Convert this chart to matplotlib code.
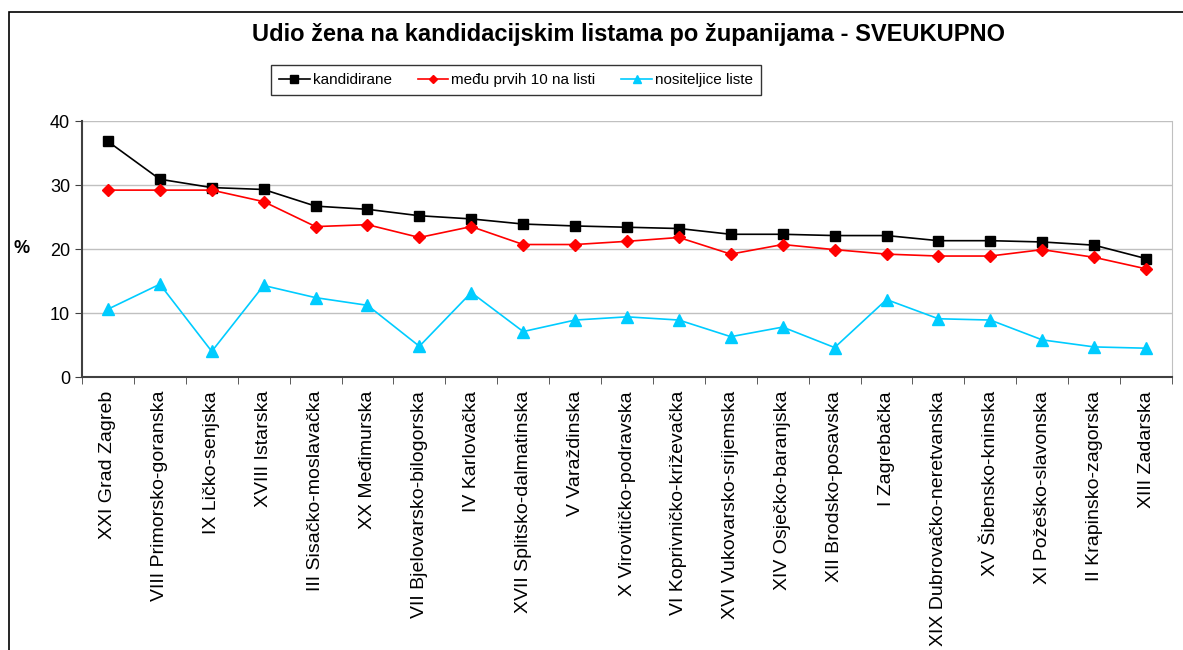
import matplotlib.pyplot as plt
from matplotlib.patches import Rectangle

plt.rcParams["font.family"] = ["Liberation Sans", "DejaVu Sans"]

counties = [
    "XXI Grad Zagreb", "VIII Primorsko-goranska", "IX Ličko-senjska",
    "XVIII Istarska", "III Sisačko-moslavačka", "XX Međimurska",
    "VII Bjelovarsko-bilogorska", "IV Karlovačka", "XVII Splitsko-dalmatinska",
    "V Varaždinska", "X Virovitičko-podravska", "VI Koprivničko-križevačka",
    "XVI Vukovarsko-srijemska", "XIV Osječko-baranjska", "XII Brodsko-posavska",
    "I Zagrebačka", "XIX Dubrovačko-neretvanska", "XV Šibensko-kninska",
    "XI Požeško-slavonska", "II Krapinsko-zagorska", "XIII Zadarska",
]
kandidirane = [36.8, 30.9, 29.6, 29.3, 26.7, 26.2, 25.2, 24.7, 23.9, 23.6, 23.4,
               23.2, 22.3, 22.3, 22.1, 22.1, 21.3, 21.3, 21.1, 20.6, 18.5]
prvih10 = [29.2, 29.2, 29.2, 27.4, 23.5, 23.8, 21.8, 23.5, 20.7, 20.7, 21.2,
           21.8, 19.2, 20.7, 19.9, 19.2, 18.9, 18.9, 19.9, 18.7, 16.9]
nositeljice = [10.6, 14.5, 4.0, 14.3, 12.4, 11.2, 4.8, 13.2, 7.1, 8.9, 9.4,
               8.9, 6.3, 7.8, 4.6, 12.1, 9.1, 8.9, 5.8, 4.7, 4.5]
yticks = [0, 10, 20, 30, 40]

fig = plt.figure(figsize=(11.83, 6.5), dpi=100)
W, H = 1183, 650

# outer chart frame (clipped at right and bottom like the source)
fig.patches.append(Rectangle((9 / W, -0.05), 1.1, 1 - 12 / H + 0.05,
                             transform=fig.transFigure, fill=False,
                             edgecolor="black", linewidth=1.2))

ax = fig.add_axes([82 / W, 1 - 377 / H, (1172 - 82) / W, (377 - 121) / H])
x = range(len(counties))

ax.plot(x, kandidirane, color="black", marker="s", markersize=7, linewidth=1.2,
        label="kandidirane")
ax.plot(x, prvih10, color="#ff0000", marker="D", markersize=6, linewidth=1.2,
        label="među prvih 10 na listi")
ax.plot(x, nositeljice, color="#00ccff", marker="^", markersize=8, linewidth=1.2,
        label="nositeljice liste")

ax.set_xlim(-0.5, len(counties) - 0.5)
ax.set_ylim(0, 40)
ax.set_yticks(yticks)
ax.yaxis.grid(True, color="#c0c0c0", linewidth=1)
ax.set_axisbelow(True)
ax.tick_params(axis="y", direction="out", length=5, labelsize=13, color="#404040")

ax.set_xticks(x)
ax.set_xticklabels(counties, rotation=90, fontsize=14, va="top")
ax.tick_params(axis="x", which="major", length=0, pad=10)
ax.set_xticks([i - 0.5 for i in range(len(counties) + 1)], minor=True)
ax.tick_params(axis="x", which="minor", direction="out", length=5, color="#404040")

for side in ["left", "bottom"]:
    ax.spines[side].set_color("#404040")
    ax.spines[side].set_linewidth(1.5)
ax.spines["right"].set_color("#c0c0c0")
ax.spines["top"].set_visible(False)

fig.text(628 / W, 1 - 35 / H, "Udio žena na kandidacijskim listama po županijama - SVEUKUPNO",
         ha="center", va="center", fontsize=17, fontweight="bold")
fig.text(22 / W, 1 - 248 / H, "%", ha="center", va="center", fontsize=13,
         fontweight="bold")

leg = fig.legend(loc="center", bbox_to_anchor=(516 / W, 1 - 80 / H), ncol=3,
                 frameon=True, fancybox=False, fontsize=11, handlelength=2.0,
                 handletextpad=0.2, columnspacing=1.7, borderpad=0.5,
                 markerscale=0.75)
leg.get_frame().set_edgecolor("black")
leg.get_frame().set_linewidth(1)

fig.savefig("out.png", dpi=100)
